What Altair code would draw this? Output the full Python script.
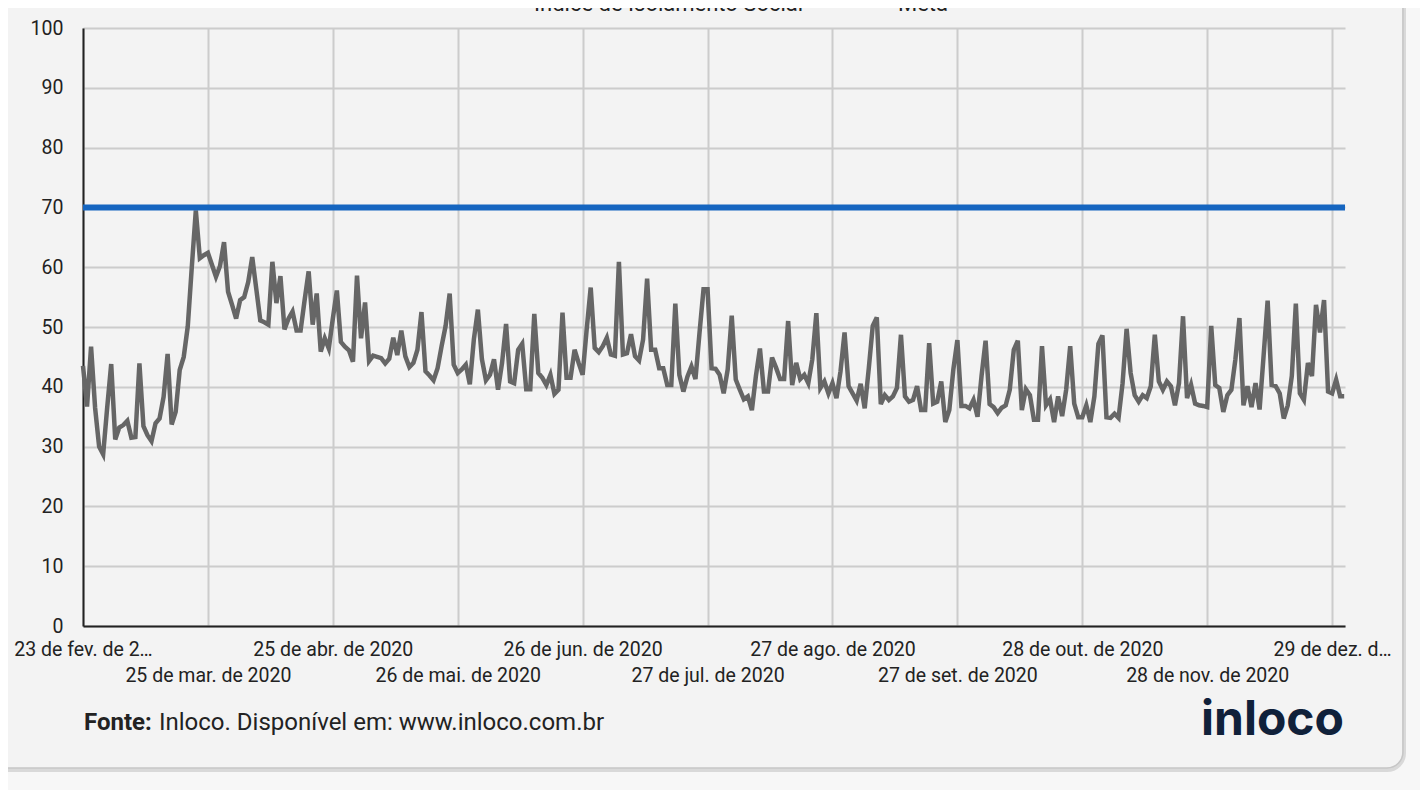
import altair as alt
import pandas as pd

# ---------------- data ----------------
# Índice de Isolamento Social, one value per day starting 23 Feb 2020 (Sunday)
index_values = [
    43.5, 36.7, 46.7, 36.5, 30.0, 28.7, 36.5,
    43.8, 31.2, 33.2, 33.6, 34.3, 31.5, 31.6,
    43.9, 33.4, 31.9, 30.9, 33.9, 34.7, 38.3,
    45.5, 33.7, 35.8, 42.8, 45.0, 50.1, 60.0,
    69.5, 61.5, 62.0, 62.4, 60.4, 58.4, 60.2,
    64.2, 55.9, 53.7, 51.4, 54.5, 55.0, 57.5,
    61.7, 56.4, 51.1, 50.8, 50.4, 60.9, 54.0,
    58.5, 49.6, 51.4, 52.6, 49.4, 49.4, 54.5,
    59.3, 50.4, 55.6, 45.9, 48.1, 46.4, 51.4,
    56.1, 47.5, 46.7, 46.1, 44.2, 58.6, 48.1,
    54.1, 44.3, 45.2, 45.0, 44.8, 43.9, 44.7,
    48.2, 45.3, 49.4, 45.1, 43.3, 44.0, 46.2,
    52.5, 42.6, 41.9, 41.1, 43.1, 46.8, 50.2,
    55.6, 43.7, 42.3, 42.9, 43.7, 40.4, 47.9,
    52.9, 44.6, 41.1, 42.0, 44.6, 39.5, 44.0,
    50.5, 40.9, 40.6, 46.2, 47.2, 39.6, 39.6,
    52.2, 42.3, 41.5, 40.3, 42.0, 38.8, 39.5,
    52.4, 41.5, 41.5, 46.2, 44.0, 42.0, 49.6,
    56.6, 46.5, 45.8, 46.8, 48.2, 45.4, 45.2,
    60.9, 45.4, 45.6, 48.8, 45.1, 44.4, 47.9,
    58.1, 46.2, 46.2, 43.1, 43.1, 40.3, 40.3,
    53.9, 42.0, 39.2, 41.7, 43.4, 41.3, 49.0,
    56.3, 56.3, 43.1, 43.0, 42.0, 38.9, 42.9,
    51.9, 41.2, 39.5, 37.9, 38.4, 36.1, 41.8,
    46.4, 39.2, 39.2, 44.9, 43.2, 41.3, 41.3,
    51.0, 40.3, 44.0, 41.3, 42.0, 40.6, 44.6,
    52.3, 39.8, 40.9, 38.9, 40.6, 38.1, 42.6,
    49.1, 40.1, 38.9, 37.7, 40.5, 36.4, 43.0,
    50.2, 51.6, 37.1, 38.6, 37.8, 38.4, 39.8,
    48.7, 38.4, 37.5, 37.8, 40.1, 36.1, 36.1,
    47.3, 37.2, 37.5, 40.9, 34.1, 36.1, 42.9,
    47.8, 36.8, 36.8, 36.4, 37.8, 35.0, 41.8,
    47.7, 37.1, 36.6, 35.6, 36.5, 36.9, 39.5,
    46.2, 47.7, 36.1, 39.6, 38.6, 34.5, 34.5,
    46.8, 36.9, 37.9, 34.1, 38.4, 35.1, 39.5,
    46.8, 37.2, 34.9, 34.9, 36.9, 34.1, 38.4,
    47.2, 48.6, 34.9, 34.8, 35.5, 34.8, 40.6,
    49.7, 42.3, 38.6, 37.5, 38.6, 38.1, 40.1,
    48.7, 40.9, 39.5, 40.9, 40.1, 36.9, 40.6,
    51.8, 38.1, 40.3, 37.2, 36.9, 36.8, 36.6,
    50.2, 40.3, 39.8, 35.8, 38.6, 39.5, 44.6,
    51.5, 36.9, 40.1, 36.6, 40.6, 36.2, 45.2,
    54.4, 40.3, 40.1, 38.9, 34.7, 36.9, 41.8,
    53.9, 38.9, 37.8, 44.0, 41.8, 53.7, 49.1,
    54.5, 39.2, 38.9, 41.2, 38.4, 38.4,
]
meta_value = 70
last_day = 313.2

tick_days = [0, 31, 62, 93, 124, 155, 186, 217, 248, 279, 310]
tick_labels = [
    "23 de fev. de 2…", "25 de mar. de 2020", "25 de abr. de 2020",
    "26 de mai. de 2020", "26 de jun. de 2020", "27 de jul. de 2020",
    "27 de ago. de 2020", "27 de set. de 2020", "28 de out. de 2020",
    "28 de nov. de 2020", "29 de dez. d…",
]
y_ticks = [0, 10, 20, 30, 40, 50, 60, 70, 80, 90, 100]
legend_labels = ["Índice de Isolamento Social", "Meta"]
source_bold = "Fonte:"
source_text = "Inloco. Disponível em: www.inloco.com.br"
logo_text = "inloco"

# ---------------- tables ----------------
df = pd.DataFrame({"dia": list(range(len(index_values))), "valor": index_values})
df_meta = pd.DataFrame({"dia": [0, last_day], "valor": [meta_value, meta_value]})
one = pd.DataFrame({"k": [0]})

W, H = 1262, 598
x_scale = alt.Scale(domain=[0, last_day], nice=False, zero=False)
y_scale = alt.Scale(domain=[0, 100], nice=False)

label_expr = "[" + ",".join("'" + s + "'" for s in tick_labels) + "][round(datum.value / 31)]"

x_axis = alt.Axis(
    values=tick_days, labelExpr=label_expr, title=None, grid=True,
    gridColor="#cccccc", gridWidth=2, domainColor="#222222", domainWidth=2,
    ticks=False, tickSize=0, labelFont="Roboto", labelFontSize=19.5,
    labelColor="#222222", labelAngle=0, labelFlush=False, labelOverlap=False,
    labelPadding={"condition": {"test": "round(datum.value / 31) % 2 == 1", "value": 40.3}, "value": 14.6},
)
y_axis = alt.Axis(
    values=y_ticks, title=None, grid=True, gridColor="#cccccc", gridWidth=2,
    domainColor="#222222", domainWidth=2, ticks=False, tickSize=0,
    labelFont="Roboto", labelFontSize=19.5, labelColor="#222222",
    labelPadding=20, labelOverlap=False, labelFlush=False,
)

# ---------------- card frame ----------------
outer = alt.Chart(one).mark_rect(fillOpacity=0, stroke="#f7f7f7", strokeWidth=40, cornerRadius=36).encode(
    x=alt.value(-140), x2=alt.value(1340), y=alt.value(-140), y2=alt.value(760))
shadow = alt.Chart(one).mark_rect(fillOpacity=0, stroke="#d9d9d9", strokeWidth=4, cornerRadius=17).encode(
    x=alt.value(-100), x2=alt.value(1321), y=alt.value(-100), y2=alt.value(742))
border = alt.Chart(one).mark_rect(fillOpacity=0, stroke="#c6c6c6", strokeWidth=1.5, cornerRadius=16).encode(
    x=alt.value(-100), x2=alt.value(1320), y=alt.value(-100), y2=alt.value(740))

# ---------------- series ----------------
line = alt.Chart(df).mark_line(color="#666666", strokeWidth=4.5).encode(
    x=alt.X("dia:Q", scale=x_scale, axis=x_axis),
    y=alt.Y("valor:Q", scale=y_scale, axis=y_axis),
)
meta = alt.Chart(df_meta).mark_line(color="#1565c0", strokeWidth=6, strokeCap="butt").encode(
    x=alt.X("dia:Q", scale=x_scale, axis=x_axis),
    y=alt.Y("valor:Q", scale=y_scale, axis=y_axis),
)

# ---------------- texts ----------------
t_fonte = alt.Chart(one).mark_text(text=source_bold, font="Roboto", fontSize=24, fontWeight="bold",
                                   align="left", baseline="alphabetic", color="#222222").encode(
    x=alt.value(1), y=alt.value(702))
t_src = alt.Chart(one).mark_text(text=source_text, font="Roboto", fontSize=24,
                                 align="left", baseline="alphabetic", color="#222222").encode(
    x=alt.value(76), y=alt.value(702))
t_logo = alt.Chart(one).mark_text(text=logo_text, font="Inter", fontSize=48, fontWeight="bold",
                                  align="right", baseline="alphabetic", color="#10213a").encode(
    x=alt.value(1261), y=alt.value(707))
t_leg1 = alt.Chart(one).mark_text(text=legend_labels[0], font="Roboto", fontSize=22,
                                  align="left", baseline="alphabetic", color="#222222").encode(
    x=alt.value(451), y=alt.value(-17))
t_leg2 = alt.Chart(one).mark_text(text=legend_labels[1], font="Roboto", fontSize=22,
                                  align="left", baseline="alphabetic", color="#222222").encode(
    x=alt.value(815), y=alt.value(-17))

chart = alt.layer(
    outer, shadow, border, line, meta, t_fonte, t_src, t_logo, t_leg1, t_leg2
).properties(
    width=W, height=H,
    padding={"left": 75, "top": 20, "right": 75, "bottom": 164},
    autosize=alt.AutoSizeParams(type="none"),
).configure(background="#f3f3f3").configure_view(strokeWidth=0)

chart.save("out.html", embed_options={"renderer": "svg", "actions": False})
